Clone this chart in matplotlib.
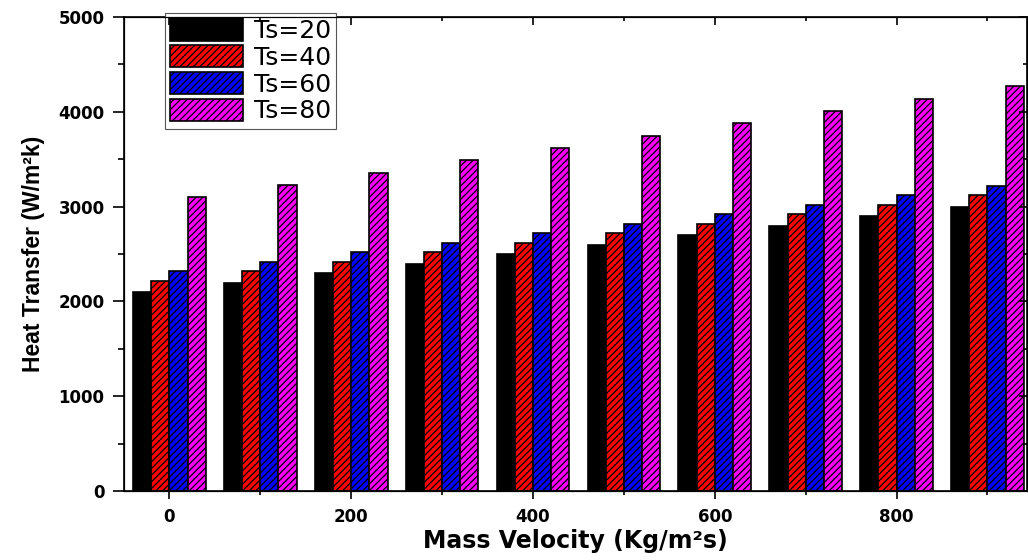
import numpy as np
import matplotlib.pyplot as plt
from matplotlib.ticker import MultipleLocator

plt.rcParams['font.family'] = ['DejaVu Sans']
plt.rcParams['hatch.linewidth'] = 0.9

mass_velocity = [0, 100, 200, 300, 400, 500, 600, 700, 800, 900]
ts20 = [2100, 2200, 2300, 2400, 2500, 2600, 2700, 2800, 2900, 3000]
ts40 = [2220, 2320, 2420, 2520, 2620, 2720, 2820, 2920, 3020, 3120]
ts60 = [2320, 2420, 2520, 2620, 2720, 2820, 2920, 3020, 3120, 3220]
ts80 = [3100, 3230, 3360, 3490, 3620, 3750, 3880, 4010, 4140, 4270]
labels = ['Ts=20', 'Ts=40', 'Ts=60', 'Ts=80']

fig = plt.figure(figsize=(10.28, 5.6), dpi=100)
ax = fig.add_axes([0.1206, 0.123, 0.878, 0.8466])

x = np.array(mass_velocity)
w = 20
series = [ts20, ts40, ts60, ts80]
colors = ['black', '#ff0000', '#0000ff', '#ff00ff']
hatches = [None, '/////', '/////', '/////']
offsets = [-30, -10, 10, 30]
for vals, c, h, off, lab in zip(series, colors, hatches, offsets, labels):
    ax.bar(x + off, vals, width=w, color=c, edgecolor='black', linewidth=1.2,
           hatch=h, label=lab)

ax.set_xlim(-50, 943)
ax.set_ylim(0, 5000)
ax.xaxis.set_major_locator(MultipleLocator(200))
ax.xaxis.set_minor_locator(MultipleLocator(100))
ax.yaxis.set_major_locator(MultipleLocator(1000))
ax.yaxis.set_minor_locator(MultipleLocator(500))
ax.tick_params(which='both', direction='out', width=1.2, top=False, right=False)
ax.tick_params(axis='x', which='major', length=6, pad=6)
ax.tick_params(axis='x', which='minor', length=3)
ax.tick_params(axis='y', which='major', length=8, pad=6)
ax.tick_params(axis='y', which='minor', length=4.5)
for s in ax.spines.values():
    s.set_linewidth(1.2)

# top/right inward ticks
axt = ax.twiny()
axt.set_xlim(ax.get_xlim())
axt.xaxis.set_major_locator(MultipleLocator(200))
axt.xaxis.set_minor_locator(MultipleLocator(100))
axt.tick_params(which='both', direction='in', labeltop=False, width=1.2)
axt.tick_params(which='major', length=6)
axt.tick_params(which='minor', length=3)
axr = ax.twinx()
axr.set_ylim(ax.get_ylim())
axr.yaxis.set_major_locator(MultipleLocator(1000))
axr.yaxis.set_minor_locator(MultipleLocator(500))
axr.tick_params(which='both', direction='in', labelright=False, width=1.2)
axr.tick_params(which='major', length=6)
axr.tick_params(which='minor', length=3)

for lbl in ax.get_xticklabels() + ax.get_yticklabels():
    lbl.set_fontweight('bold')
    lbl.set_fontsize(12)

ax.set_xlabel('Mass Velocity (Kg/m²s)', fontsize=17, fontweight='bold', labelpad=2)
ax.set_ylabel('Heat Transfer (W/m²k)', fontsize=16.5, fontweight='bold',
              family=['Liberation Sans', 'DejaVu Sans'], labelpad=10)

leg = ax.legend(loc='upper left', bbox_to_anchor=(0.045, 1.009), fontsize=18,
                handlelength=2.9, handleheight=1.0, labelspacing=0.08,
                borderpad=0.22, handletextpad=0.45, borderaxespad=0,
                fancybox=False, framealpha=1, edgecolor='#555555')
leg.get_frame().set_linewidth(0.8)
leg.set_zorder(10)

fig.savefig('out.png', dpi=100)
